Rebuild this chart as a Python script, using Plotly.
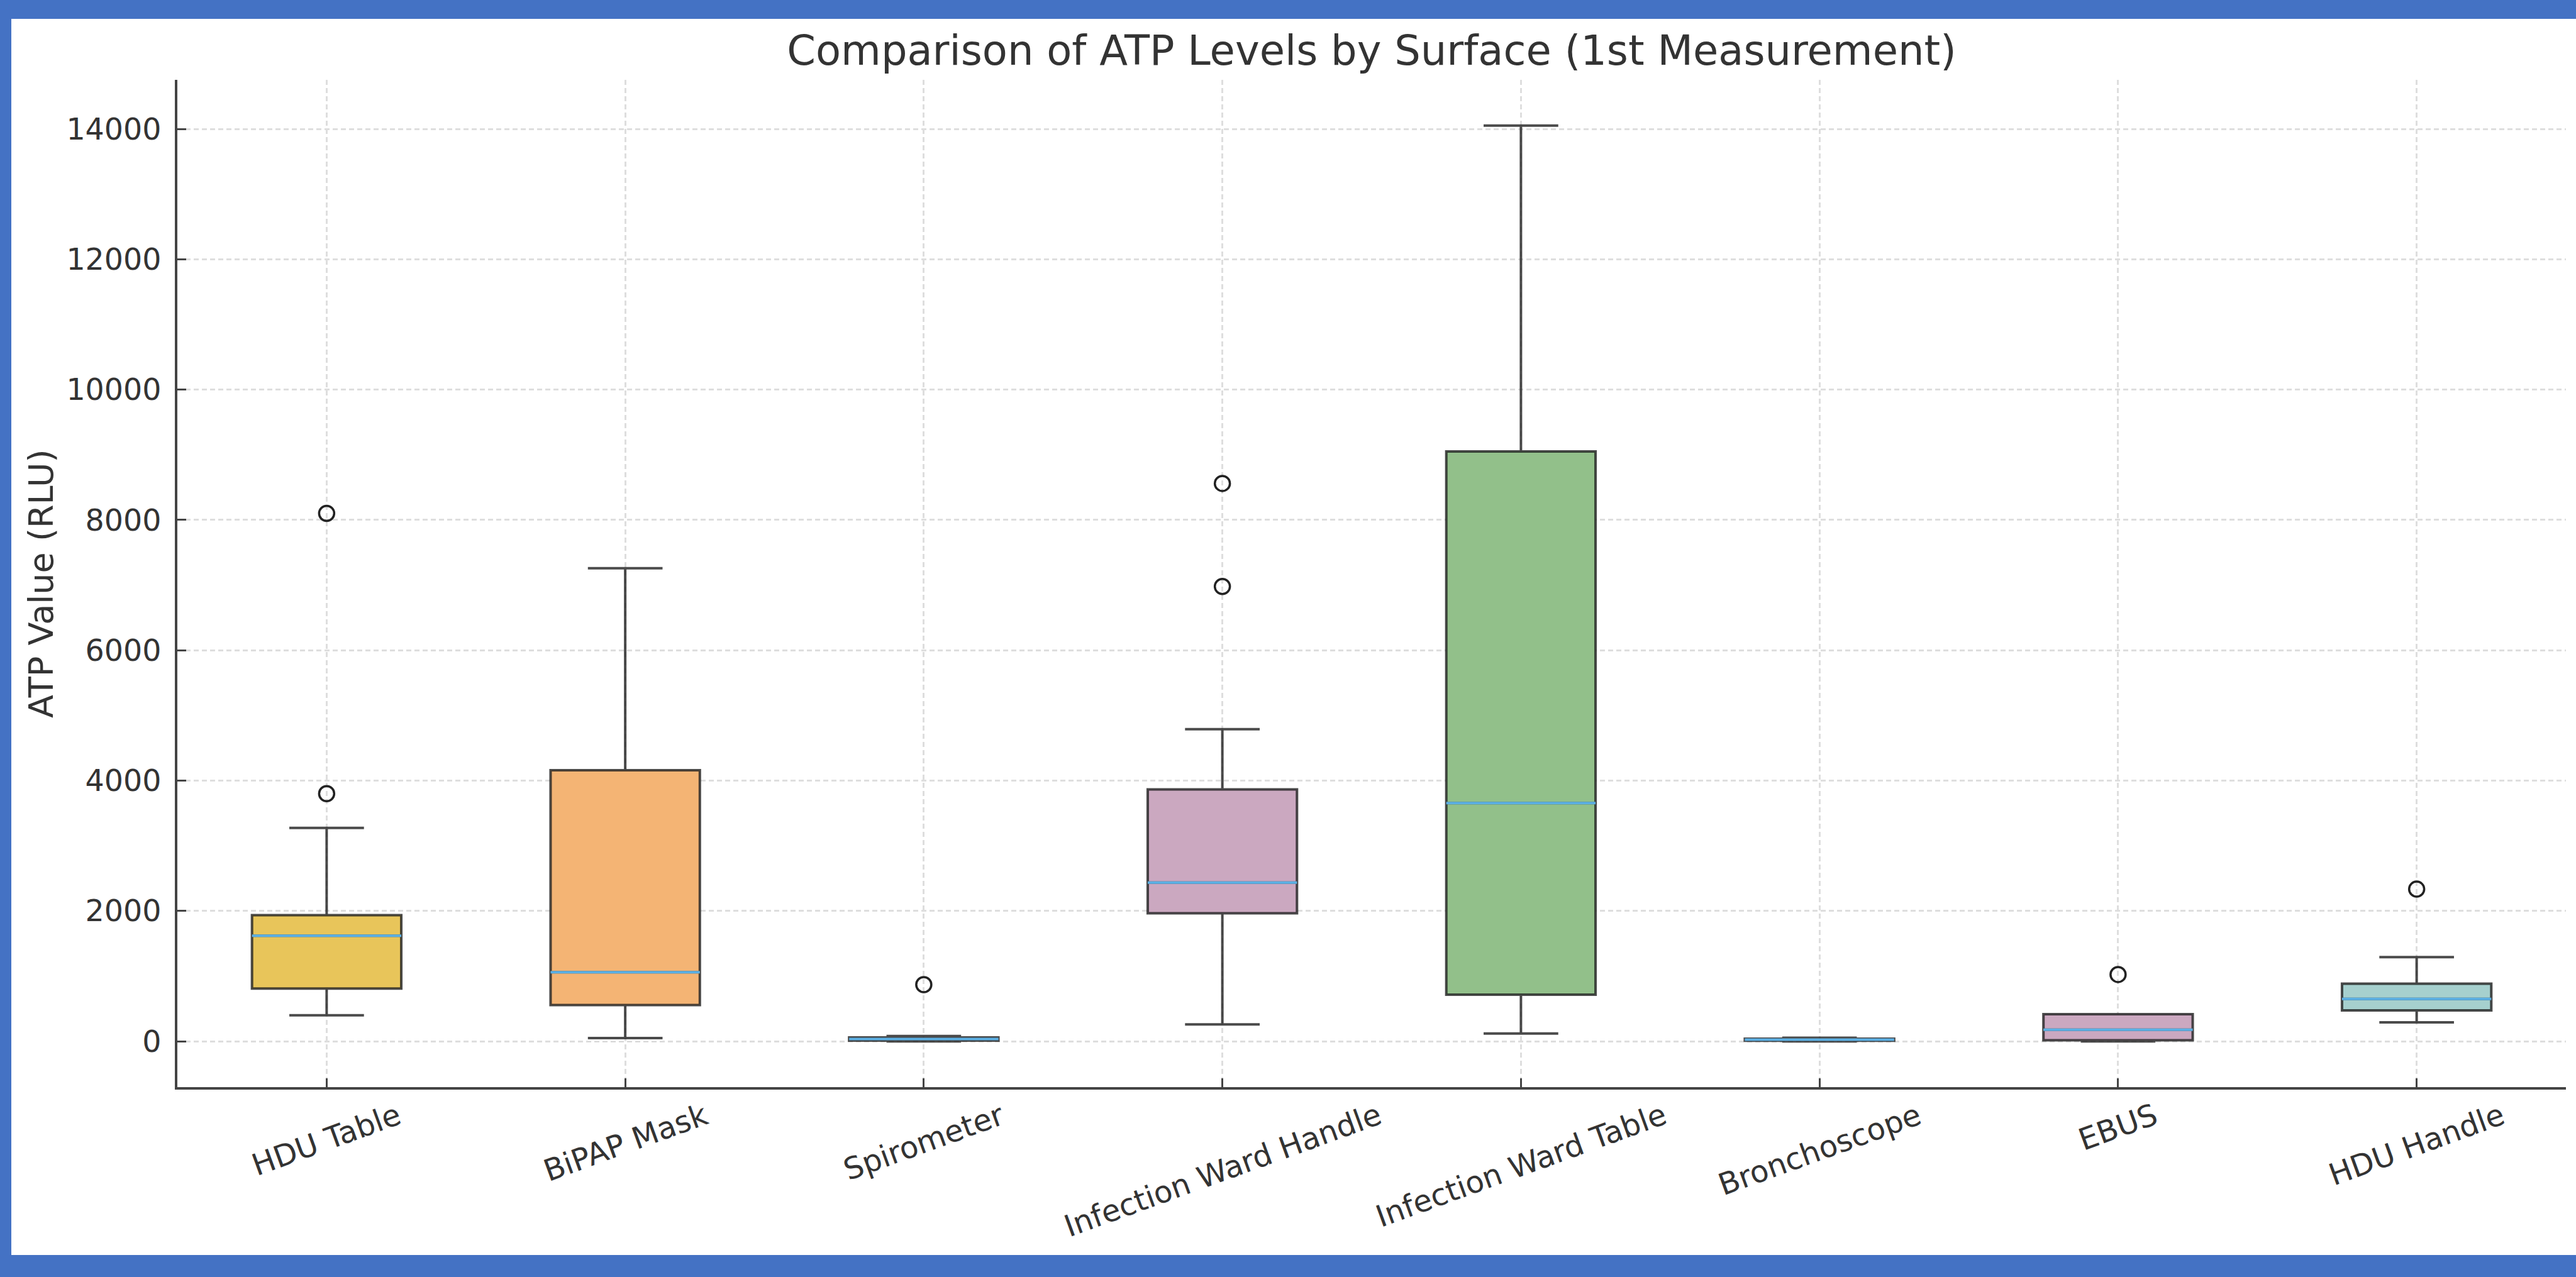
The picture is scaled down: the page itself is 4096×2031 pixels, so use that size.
import plotly.graph_objects as go

# ---------------- data ----------------
categories = ["HDU Table", "BiPAP Mask", "Spirometer", "Infection Ward Handle",
              "Infection Ward Table", "Bronchoscope", "EBUS", "HDU Handle"]
lower_whisker = [400, 50, 0, 260, 120, 0, 0, 290]
q1 = [810, 555, 10, 1965, 715, 8, 15, 475]
median = [1620, 1060, 35, 2435, 3655, 25, 178, 650]
q3 = [1935, 4160, 60, 3865, 9050, 40, 415, 885]
upper_whisker = [3275, 7260, 80, 4790, 14050, 55, 415, 1292]
outliers = [[8100, 3800], [], [870], [8560, 6980], [], [], [1025], [2335]]
fill_colors = ["#E8C55A", "#F4B474", "#9CC3DE", "#CBA8C0",
               "#92C08A", "#9CC3DE", "#CBA8C0", "#A6D0CE"]
y_ticks = [0, 2000, 4000, 6000, 8000, 10000, 12000, 14000]

title_text = "Comparison of ATP Levels by Surface (1st Measurement)"
y_title = "ATP Value (RLU)"

# ---------------- layout constants ----------------
W, H = 4096, 2031
L, R, T, B = 282, 4080, 127, 1729          # plot area in pixels
PW, PH = R - L, B - T
FONT = "DejaVu Sans"
TXT = "#333333"
BLUE = "#4472C4"
BOX_W = 0.5

positions = list(range(1, len(categories) + 1))

fig = go.Figure()

for i, cat in enumerate(categories):
    fig.add_trace(go.Box(
        x=[positions[i]], q1=[q1[i]], median=[median[i]], q3=[q3[i]],
        lowerfence=[lower_whisker[i]], upperfence=[upper_whisker[i]],
        width=BOX_W, whiskerwidth=0.5,
        fillcolor=fill_colors[i],
        line=dict(color="rgba(30,30,30,0.8)", width=4),
        boxpoints=False, showlegend=False, hoverinfo="skip",
        name=cat,
    ))

# median lines (blue), drawn over the boxes
mx, my = [], []
for i in range(len(categories)):
    mx += [positions[i] - BOX_W / 2, positions[i] + BOX_W / 2, None]
    my += [median[i], median[i], None]
fig.add_trace(go.Scatter(x=mx, y=my, mode="lines",
                         line=dict(color="#5CB0E4", width=4),
                         showlegend=False, hoverinfo="skip"))

# outliers
ox, oy = [], []
for i, vals in enumerate(outliers):
    for v in vals:
        ox.append(positions[i])
        oy.append(v)
fig.add_trace(go.Scatter(x=ox, y=oy, mode="markers",
                         marker=dict(symbol="circle", size=24, color="rgba(0,0,0,0)",
                                     line=dict(color="#222222", width=3.5)),
                         showlegend=False, hoverinfo="skip"))

# x tick labels as rotated, centred annotations
annotations = []
for i, cat in enumerate(categories):
    annotations.append(dict(
        x=positions[i], y=0, xref="x", yref="paper",
        text=cat, showarrow=False, textangle=-20,
        xanchor="center", yanchor="top", yshift=-12,
        font=dict(family=FONT, size=48, color=TXT),
    ))
# y axis title
annotations.append(dict(
    x=0, y=0.5, xref="paper", yref="paper", text=y_title, showarrow=False,
    textangle=-90, xanchor="center", yanchor="middle", xshift=-(L - 65),
    font=dict(family=FONT, size=54, color=TXT),
))

# blue frame (top, left, bottom) in paper coordinates
def px_x(p):
    return (p - L) / PW

def px_y(p):
    return (B - p) / PH

shapes = [
    dict(type="rect", xref="paper", yref="paper", x0=px_x(0), x1=px_x(W),
         y0=px_y(30), y1=px_y(0), fillcolor=BLUE, line=dict(width=0), layer="above"),
    dict(type="rect", xref="paper", yref="paper", x0=px_x(0), x1=px_x(18),
         y0=px_y(H), y1=px_y(0), fillcolor=BLUE, line=dict(width=0), layer="above"),
    dict(type="rect", xref="paper", yref="paper", x0=px_x(0), x1=px_x(W),
         y0=px_y(H), y1=px_y(1996), fillcolor=BLUE, line=dict(width=0), layer="above"),
]

axis_common = dict(
    showline=True, linecolor="#444444", linewidth=4,
    ticks="inside", ticklen=14, tickwidth=3, tickcolor="#444444",
    showgrid=True, gridcolor="#DEDEDE", gridwidth=2.5, griddash="8px,5px",
    zeroline=False, mirror=False,
)

fig.update_layout(
    width=W, height=H, autosize=False,
    margin=dict(l=L, r=W - R, t=T, b=H - B, pad=0),
    paper_bgcolor="white", plot_bgcolor="white",
    boxmode="overlay",
    title=dict(text=title_text, x=0.5, xref="paper", xanchor="center",
               y=1 - 80 / H, yref="container", yanchor="middle",
               font=dict(family=FONT, size=65.5, color=TXT)),
    xaxis=dict(range=[0.5, len(categories) + 0.5], tickvals=positions,
               showticklabels=False, **axis_common),
    yaxis=dict(range=[-703, 14753], tickvals=y_ticks, tickformat="d",
               ticklabelstandoff=12,
               tickfont=dict(family=FONT, size=47.5, color=TXT), **axis_common),
    annotations=annotations,
    shapes=shapes,
    showlegend=False,
    font=dict(family=FONT, color=TXT),
)

fig.write_html(
    "out.html",
    config={"displayModeBar": False},
    post_script=("document.documentElement.style.margin='0';"
                 "document.body.style.margin='0';"
                 "document.body.style.padding='0';"
                 "document.body.style.overflow='hidden';"),
)
